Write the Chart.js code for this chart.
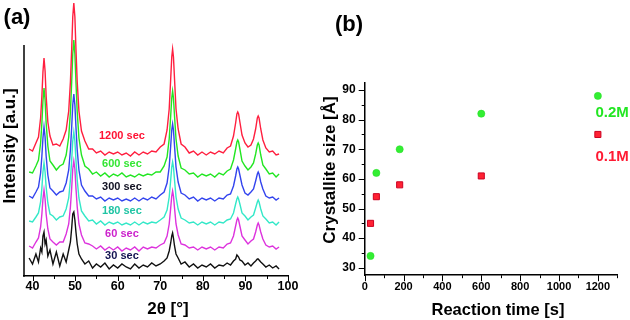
<!DOCTYPE html>
<html><head><meta charset="utf-8">
<script src="https://cdn.jsdelivr.net/npm/chart.js@4.4.0/dist/chart.umd.min.js"></script>
<style>
html,body{margin:0;padding:0;background:#fff;width:630px;height:320px;overflow:hidden}
#wa{position:absolute;left:0;top:0;width:315px;height:320px}
#wb{position:absolute;left:315px;top:0;width:315px;height:320px}
</style></head><body>
<div id="wa"><canvas id="ca" width="315" height="320"></canvas></div>
<div id="wb"><canvas id="cb" width="315" height="320"></canvas></div>
<script>
// ---------- DATA (panel a: XRD patterns, stacked, arbitrary units) ----------
const twoTheta = [39.2,40.0,40.8,41.4,41.9,42.2,42.45,42.7,42.95,43.2,
  43.6,44.1,44.8,45.6,46.4,47.2,47.9,48.5,48.9,49.2,
  49.45,49.7,49.95,50.2,50.5,50.9,51.5,52.3,53.2,54.1,
  55.0,56.0,57.0,58.0,59.0,60.0,61.0,62.0,63.0,64.0,
  65.0,66.0,67.0,68.0,69.0,70.0,70.9,71.6,72.1,72.45,
  72.7,72.9,73.1,73.35,73.7,74.2,74.9,75.8,76.8,77.8,
  78.8,79.8,80.8,81.8,82.8,83.8,84.8,85.7,86.5,87.2,
  87.7,88.0,88.2,88.4,88.7,89.2,89.9,90.6,91.3,91.9,
  92.4,92.8,93.0,93.2,93.6,94.1,94.8,95.6,96.4,97.2,97.9];
const int1200 = [127,125,133,139,158,180,204,218,205,180,
  154,140,131,132,130,137,146,165,194,227,
  259,273,259,227,194,165,145,135,127,127,
  123,125,121,124,122,124,121,123,120,124,
  121,124,122,125,124,129,132,146,167,197,
  219,227,219,197,167,147,132,129,123,125,
  121,124,121,124,122,125,123,128,130,140,
  153,162,164,162,154,141,133,129,131,137,
  147,158,160,158,147,136,128,124,125,121,122];
const int600 = [104,103,110,116,133,153,175,188,176,153,
  130,115,111,106,110,112,121,139,164,194,
  222,236,222,194,164,138,121,110,107,102,
  104,100,103,99,102,100,103,99,101,99,
  102,100,102,101,104,104,110,119,137,160,
  178,185,178,160,137,120,108,106,102,103,
  99,102,100,102,99,103,101,105,107,116,
  127,134,136,134,127,115,110,106,109,113,
  122,131,133,131,121,111,107,102,103,99,102];
const int300 = [80,78,84,89,103,120,138,149,139,120,
  101,88,85,81,84,85,93,106,126,149,
  171,182,171,149,126,106,91,85,80,80,
  77,79,75,78,76,78,75,77,75,78,
  75,78,76,79,77,81,84,93,109,130,
  146,152,146,130,109,94,83,81,77,79,
  75,78,76,78,75,78,77,81,82,90,
  100,107,109,107,101,91,83,81,84,87,
  95,102,104,102,94,87,80,78,79,76,78];
const int180 = [55,54,59,63,74,88,104,113,104,89,
  73,62,60,56,59,60,67,78,96,116,
  135,144,135,116,96,78,65,60,55,56,
  52,55,51,54,52,54,51,53,51,54,
  51,54,52,54,53,56,59,66,79,96,
  109,114,109,96,79,67,58,56,53,54,
  51,54,52,54,51,54,53,56,57,63,
  72,77,79,77,72,63,60,56,59,61,
  68,74,76,74,67,60,57,53,54,51,54];
const int60 = [30,28,34,38,49,62,77,86,77,62,
  47,37,34,31,34,34,42,52,69,88,
  107,115,107,88,69,52,41,33,32,30,
  27,30,26,29,26,29,25,28,26,29,
  25,29,27,29,28,31,33,40,52,68,
  80,85,80,68,52,41,32,31,28,29,
  26,29,27,29,26,29,28,32,33,40,
  50,56,58,56,50,40,36,32,35,37,
  44,51,53,51,44,37,31,29,30,27,29];
const int30 = [18,12,22,14,28,24,40,44,32,36,
  20,26,12,24,10,22,14,26,34,48,
  62,64,56,44,32,22,17,12,15,8,
  12,9,13,7,11,8,12,9,7,12,
  8,11,9,13,10,12,15,18,25,33,
  40,43,38,30,22,18,12,14,9,12,
  8,11,9,12,8,11,10,13,11,15,
  17,21,20,19,16,15,11,13,10,13,
  15,17,17,16,14,12,9,11,8,10,7];
const curveNames = ['1200 sec','600 sec','300 sec','180 sec','60 sec','30 sec'];
const xTicksA = [40,50,60,70,80,90,100];

// ---------- DATA (panel b: crystallite size) ----------
const reactionTime = [30,60,180,600,1200];
const size02M = [34,62,70,82,88];
const size01M = [45,54,58,61,75];
const seriesNamesB = ['0.2M','0.1M'];
const xTicksB = [0,200,400,600,800,1000,1200];
const yTicksB = [30,40,50,60,70,80,90];

// ---------- STYLE ----------
const FONT = '"Liberation Sans", Arial, Helvetica, sans-serif';
const seriesA = [int1200,int600,int300,int180,int60,int30];
const lineColors = ['#ff1f3f','#22e622','#3344ee','#33e8c8','#dd33dd','#111111'];
const textColors = ['#ff1133','#33e633','#111122','#20c4a4','#cc22cc','#121250'];
const labelY = [140,112,89,65,42,20];   // label anchors in axis units
const labelX = 61;

function line(ctx,x1,y1,x2,y2){ctx.beginPath();ctx.moveTo(x1,y1);ctx.lineTo(x2,y2);ctx.stroke();}
function text(ctx,s,x,y,size,color,rot){
  ctx.save(); ctx.translate(x,y); if(rot) ctx.rotate(rot);
  ctx.font='bold '+size+'px '+FONT; ctx.fillStyle=color; ctx.textAlign='center'; ctx.textBaseline='middle';
  ctx.fillText(s,0,0); ctx.restore();
}

const plugA = {
  id:'decorA',
  afterDraw(chart){
    const {ctx, chartArea:ca, scales:{x,y}} = chart;
    ctx.save();
    ctx.strokeStyle='#000'; ctx.lineWidth=1.5;
    line(ctx, ca.left, y.getPixelForValue(231), ca.left, ca.bottom+0.75);
    ctx.lineWidth=1;
    for(let v=xTicksA[0]; v<=xTicksA[xTicksA.length-1]; v+=5){
      const px=Math.round(x.getPixelForValue(v))+0.5;
      line(ctx, px, ca.bottom, px, ca.bottom+(v%10===0?5:3));
    }
    text(ctx,'(a)',17,18,22,'#000');
    text(ctx,'Intensity [a.u.]',10,146,17,'#000',-Math.PI/2);
    text(ctx,'2\u03B8 [\u00B0]',168,309.5,17,'#000');
    curveNames.forEach((n,i)=>text(ctx,n,x.getPixelForValue(labelX),y.getPixelForValue(labelY[i]),11,textColors[i]));
    ctx.restore();
  }
};

new Chart(document.getElementById('ca'),{
  type:'line',
  data:{datasets: seriesA.map((s,i)=>({
    label:curveNames[i],
    data: twoTheta.map((t,k)=>({x:t,y:s[k]})),
    borderColor:lineColors[i], borderWidth:1.4, pointRadius:0, fill:false, tension:0
  }))},
  options:{
    responsive:false, animation:false, devicePixelRatio:1,
    layout:{padding:{left:24,right:27,top:0,bottom:0}},
    plugins:{legend:{display:false},tooltip:{enabled:false}},
    scales:{
      x:{type:'linear',min:38,max:100,
        afterBuildTicks:s=>{s.ticks=xTicksA.map(v=>({value:v}));},
        afterFit:s=>{s.height=44;},
        grid:{display:false,drawTicks:false}, border:{display:true,color:'#000',width:1.5},
        ticks:{color:'#000',font:{family:FONT,size:12.5,weight:'bold'},padding:3.5,maxRotation:0,autoSkip:false,
          callback:v=>String(v)}},
      y:{type:'linear',display:false,min:0,max:276}
    }
  },
  plugins:[plugA]
});

const plugB = {
  id:'decorB',
  afterDraw(chart){
    const {ctx, chartArea:ca, scales:{x,y}} = chart;
    ctx.save();
    ctx.strokeStyle='#000'; ctx.lineWidth=1;
    for(let v=yTicksB[0]; v<=yTicksB[yTicksB.length-1]; v+=5){
      const py=Math.round(y.getPixelForValue(v))+0.5;
      line(ctx, ca.left, py, ca.left-(v%10===0?6:3), py);
    }
    for(let v=0; v<=1300; v+=100){
      const px=Math.round(x.getPixelForValue(v))+0.5;
      line(ctx, px, ca.bottom, px, ca.bottom+(v%200===0?6:3));
    }
    text(ctx,'(b)',34,25,22,'#000');
    text(ctx,'Crystallite size [\u00C5]',15,170,17,'#000',-Math.PI/2);
    text(ctx,'Reaction time [s]',183,310,16.5,'#000');
    text(ctx,seriesNamesB[0],x.getPixelForValue(1273),y.getPixelForValue(82.3),15,'#22e622');
    text(ctx,seriesNamesB[1],x.getPixelForValue(1273),y.getPixelForValue(67.4),15,'#ff1a33');
    ctx.restore();
  }
};

new Chart(document.getElementById('cb'),{
  type:'scatter',
  data:{datasets:[
    {label:seriesNamesB[0], data:reactionTime.map((t,i)=>({x:t,y:size02M[i]})),
     pointStyle:'circle', pointRadius:3.6, backgroundColor:'#33ee33', borderColor:'#22dd22', borderWidth:0.5},
    {label:seriesNamesB[1], data:reactionTime.map((t,i)=>({x:t,y:size01M[i]})),
     pointStyle:'rect', pointRadius:4.3, backgroundColor:'#ff2233', borderColor:'#cc0022', borderWidth:1}
  ]},
  options:{
    responsive:false, animation:false, devicePixelRatio:1,
    layout:{padding:{left:0,right:12.7,top:82.6,bottom:0}},
    plugins:{legend:{display:false},tooltip:{enabled:false}},
    scales:{
      x:{type:'linear',min:0,max:1300,
        afterBuildTicks:s=>{s.ticks=xTicksB.map(v=>({value:v}));},
        afterFit:s=>{s.height=44.8;},
        grid:{display:false,drawTicks:false}, border:{display:true,color:'#000',width:1.5},
        ticks:{color:'#000',font:{family:FONT,size:11,weight:'bold'},padding:5,maxRotation:0,autoSkip:false,
          callback:v=>String(v)}},
      y:{type:'linear',min:27.5,max:92.5,
        afterBuildTicks:s=>{s.ticks=yTicksB.map(v=>({value:v}));},
        afterFit:s=>{s.width=49.7;},
        grid:{display:false,drawTicks:false}, border:{display:true,color:'#000',width:1.5},
        ticks:{color:'#000',font:{family:FONT,size:12,weight:'bold'},padding:9,autoSkip:false,
          callback:v=>String(v)}}
    }
  },
  plugins:[plugB]
});
</script>
</body></html>
